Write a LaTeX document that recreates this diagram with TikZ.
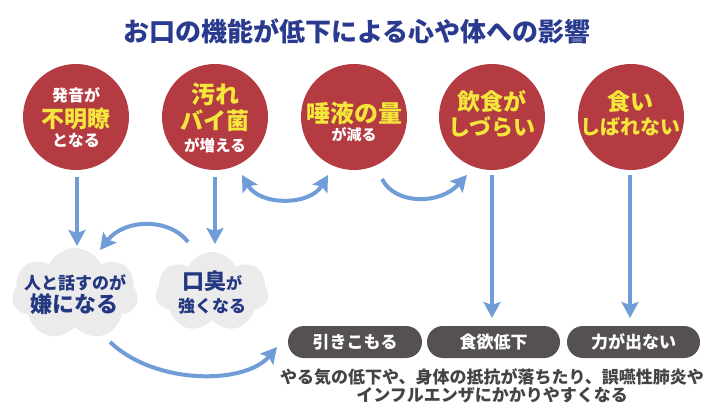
\documentclass[tikz,border=0pt]{standalone}
\usepackage{fontspec}
\setmainfont{Noto Sans CJK JP}
\usetikzlibrary{arrows.meta,shapes.symbols}
\definecolor{circred}{RGB}{179,59,65}
\definecolor{yel}{RGB}{245,230,60}
\definecolor{titleblue}{RGB}{42,59,143}
\definecolor{cloudblue}{RGB}{36,56,130}
\definecolor{arrblue}{RGB}{112,157,216}
\definecolor{pillgray}{RGB}{85,81,82}
\definecolor{txtgray}{RGB}{68,68,68}
\definecolor{cloudgray}{RGB}{235,235,235}
\tikzset{
  redcirc/.style={circle, fill=circred, minimum size=106pt, inner sep=0pt},
  tx/.style={inner sep=0pt, font=\bfseries\fontsize{#1}{#1}\selectfont},
  wt/.style={tx=#1, text=white},
  yt/.style={tx=#1, text=yel},
  bt/.style={tx=#1, text=cloudblue},
  cloudbox/.style={cloud, cloud puffs=7, cloud puff arc=130, fill=cloudgray, inner sep=0pt},
  pill/.style={fill=pillgray, rounded corners=16pt, minimum height=32pt, inner sep=0pt, text=white, font=\bfseries\fontsize{17}{17}\selectfont},
  arr/.style={draw=arrblue, line width=4pt, -{Stealth[length=16pt,width=17pt,inset=3pt]}},
  darr/.style={draw=arrblue, line width=4pt, {Stealth[length=16pt,width=17pt,inset=3pt]}-{Stealth[length=16pt,width=17pt,inset=3pt]}}
}
\begin{document}
\begin{tikzpicture}[x=1pt,y=-1pt]
\useasboundingbox (0,0) rectangle (714,419);
\fill[white] (0,0) rectangle (714,419);

\node[tx=26, text=titleblue] (title) at (357,31) {お口の機能が低下による心や体への影響};

% circles
\node[redcirc] (c1) at (76,117) {};
\node[redcirc] (c2) at (215,117) {};
\node[redcirc] (c3) at (354,117) {};
\node[redcirc] (c4) at (492,117) {};
\node[redcirc] (c5) at (631,117) {};

\node[wt=16] (c1a) at (76,95) {発音が};
\node[yt=23] (c1b) at (76,119) {不明瞭};
\node[wt=16] (c1c) at (76,140) {となる};

\node[yt=24] (c2a) at (215,94) {汚れ};
\node[yt=23] (c2b) at (215,121) {バイ菌};
\node[wt=15.5] (c2c) at (215,145) {が増える};

\node[yt=24] (c3a) at (354,113) {唾液の量};
\node[wt=15] (c3b) at (354,135) {が減る};

\node[yt=23] (c4a) at (492,102) {飲食が};
\node[yt=22] (c4b) at (492,127) {しづらい};

\node[yt=23] (c5a) at (630,102) {食い};
\node[yt=20] (c5b) at (630,127) {しばれない};

% clouds
\node[cloudbox, minimum width=126pt, minimum height=92pt] (cl1) at (75,294) {};
\node[cloudbox, minimum width=113pt, minimum height=80pt] (cl2) at (212,292) {};

\node[bt=17] (cl1a) at (75,283) {人と話すのが};
\node[bt=22] (cl1b) at (74,304) {嫌になる};
\node[bt=22, anchor=base] (cl2a) at (212,290) {口臭{\fontsize{16}{16}\selectfont が}};
\node[bt=17] (cl2b) at (212,306) {強くなる};

% pills
\node[pill, minimum width=134pt] (p1) at (355,342) {引きこもる};
\node[pill, minimum width=133pt] (p2) at (493.5,342) {食欲低下};
\node[pill, minimum width=133pt] (p3) at (633.5,342) {力が出ない};

\node[tx=17, text=txtgray] (b1) at (492,377) {やる気の低下や、身体の抵抗が落ちたり、誤嚥性肺炎や};
\node[tx=17, text=txtgray] (b2) at (492,395) {インフルエンザにかかりやすくなる};

% arrow end points
\coordinate (a1s) at (77,177);  \coordinate (a1e) at (77,246);
\coordinate (a2s) at (215,177); \coordinate (a2e) at (215,244);
\coordinate (a3s) at (188,242); \coordinate (a3e) at (100,250);
\coordinate (a4s) at (242,175); \coordinate (a4e) at (328,175);
\coordinate (a5s) at (382,179); \coordinate (a5e) at (467,175);
\coordinate (a6s) at (492,175); \coordinate (a6e) at (492,318);
\coordinate (a7s) at (630,175); \coordinate (a7e) at (630,318);
\coordinate (a8s) at (110,342); \coordinate (a8e) at (277,347);

\draw[arr] (a1s) -- (a1e);
\draw[arr] (a2s) -- (a2e);
\draw[arr] (a3s) .. controls (170,218) and (125,218) .. (a3e);
\draw[darr] (a4s) .. controls (260,206) and (310,206) .. (a4e);
\draw[arr] (a5s) .. controls (395,205) and (440,205) .. (a5e);
\draw[arr] (a6s) -- (a6e);
\draw[arr] (a7s) -- (a7e);
\draw[arr] (a8s) .. controls (155,385) and (245,385) .. (a8e);
\end{tikzpicture}
\end{document}
